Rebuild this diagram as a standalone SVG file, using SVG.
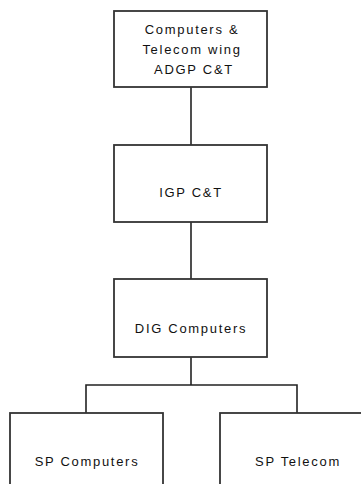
<svg xmlns="http://www.w3.org/2000/svg" width="361" height="484" viewBox="0 0 361 484">
<style>
.box{fill:#fff;stroke:#333;stroke-width:1.8}
.conn{fill:none;stroke:#222;stroke-width:1.6}
text{font-family:"Liberation Sans",Arial,sans-serif;font-size:13px;fill:#111;text-anchor:middle;letter-spacing:1.7px}
</style>
<rect width="361" height="484" fill="#fff"/>
<g id="connectors">
<line class="conn" x1="191" y1="87" x2="191" y2="145"/>
<line class="conn" x1="191" y1="222" x2="191" y2="279"/>
<polyline class="conn" points="191,357 191,385"/>
<polyline class="conn" points="86,413 86,385 297,385 297,413"/>
</g>
<g id="adgp">
<rect class="box" x="114" y="11" width="153" height="76"/>
<text x="192" y="34">Computers &amp;</text>
<text x="192" y="54">Telecom wing</text>
<text x="194" y="74">ADGP C&amp;T</text>
</g>
<g id="igp">
<rect class="box" x="114" y="145" width="153" height="77"/>
<text x="191" y="197">IGP C&amp;T</text>
</g>
<g id="dig">
<rect class="box" x="114" y="279" width="153" height="78"/>
<text x="191" y="333">DIG Computers</text>
</g>
<g id="spcomputers">
<rect class="box" x="10" y="413" width="153" height="100"/>
<text x="87" y="466">SP Computers</text>
</g>
<g id="sptelecom">
<rect class="box" x="220" y="413" width="160" height="100"/>
<text x="298" y="466">SP Telecom</text>
</g>
</svg>
